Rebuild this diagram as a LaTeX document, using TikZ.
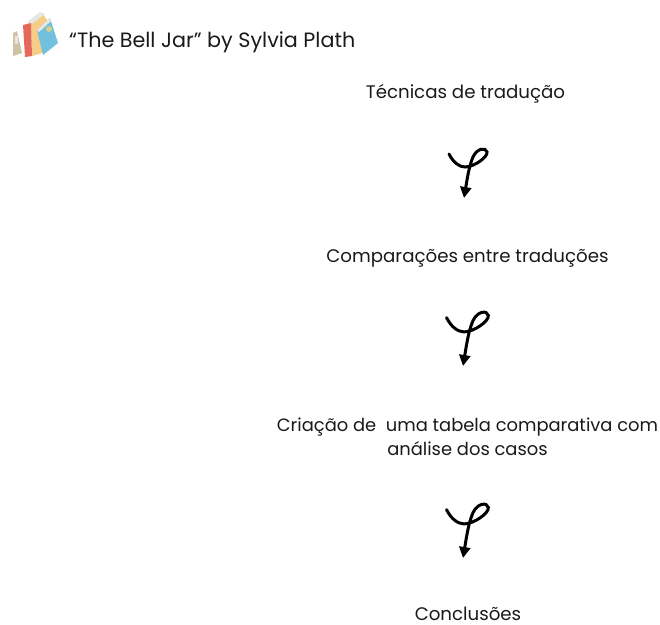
\documentclass[tikz,border=0pt]{standalone}
\usepackage{fontspec}
\setmainfont{Poppins}
\usetikzlibrary{arrows.meta}
\definecolor{ink}{HTML}{1A1A1A}
\definecolor{bookgrey}{HTML}{CFC3A6}
\definecolor{bookyellow}{HTML}{F6CC86}
\definecolor{bookred}{HTML}{E4695A}
\definecolor{bookblue}{HTML}{72C0DE}
\definecolor{bookpale}{HTML}{E6E6E2}
\definecolor{bookdot}{HTML}{D6CF8A}
\tikzset{
  lbl/.style={font=\fontsize{18.2}{24}\selectfont,text=ink,align=center,inner sep=0pt},
  lblbase/.style={lbl,anchor=base},
  ttl/.style={font=\fontsize{20.7}{24}\selectfont,text=ink,inner sep=0pt,anchor=base west},
  swirl/.pic={
    \draw[line width=3pt,line cap=round,black,-{Triangle[length=11pt,width=11pt]}]
      (-15,-44) .. controls (-11,-36) and (-5,-31) .. (1,-31)
      .. controls (10,-31) and (24,-41) .. (23,-46)
      .. controls (22,-51) and (13,-50) .. (9,-41)
      .. controls (5,-32) and (3,-18) .. (0,0);
  }
}
\begin{document}
\begin{tikzpicture}[x=1pt,y=-1pt]
\useasboundingbox (0,0) rectangle (660,624);
\fill[white] (0,0) rectangle (660,624);
% books
\fill[bookgrey] (13,33) -- (17,31) -- (22,53) -- (13,56) -- cycle;
\fill[bookpale] (15,36) rectangle (18,44);
\fill[bookyellow] (31,24) -- (43,14) -- (47,20) -- (53,29) -- (42,53) -- (32,56) -- cycle;
\fill[bookpale] (26,23) -- (40,12) -- (45,14) -- (32,24) -- cycle;
\fill[bookred] (23,25) -- (31,23) -- (32,56) -- (25,57) -- cycle;
\fill[bookblue] (37,30) -- (50,18) -- (58,43) -- (43,55) -- cycle;
\fill[bookpale] (37,30) -- (50,18) -- (51,21) -- (39,32) -- cycle;
\fill[bookdot] (49,29) circle (3pt);
% texts
\node[ttl] (title) at (69,47.5) {“The Bell Jar” by Sylvia Plath};
\node[lblbase] (a) at (465.5,98) {Técnicas de tradução};
\node[lblbase] (b) at (467.5,262) {Comparações entre traduções};
\node[lbl,font=\fontsize{17.9}{24}\selectfont] (c) at (467.5,437) {Criação de\ \ uma tabela comparativa com\\análise dos casos};
\node[lblbase] (d) at (468,620) {Conclusões};
% arrows
\pic at (464,198) {swirl};
\pic[scale=1.1] at (463,366) {swirl};
\pic[scale=1.1] at (463,558) {swirl};
\end{tikzpicture}
\end{document}
